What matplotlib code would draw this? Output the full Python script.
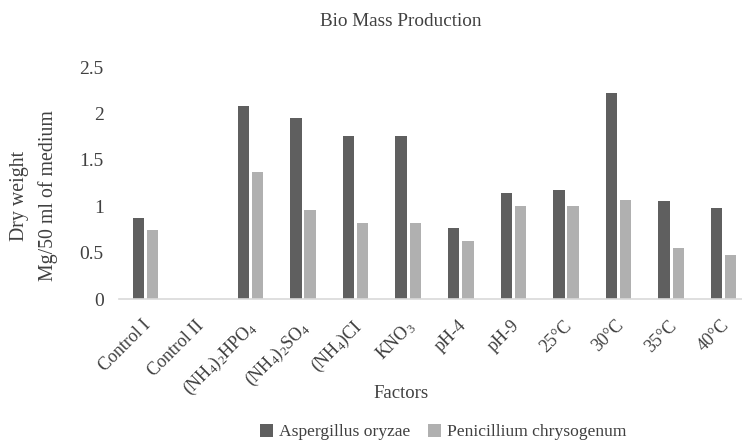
import matplotlib
matplotlib.use("Agg")
import matplotlib.pyplot as plt
import matplotlib.transforms as mtransforms
import numpy as np

categories = ["Control I", "Control II", r"(NH$_4$)$_2$HPO$_4$", r"(NH$_4$)$_2$SO$_4$",
              r"(NH$_4$)CI", r"KNO$_3$", "pH-4", "pH-9", "25°C", "30°C", "35°C", "40°C"]
aspergillus = [0.87, 0, 2.08, 1.95, 1.76, 1.76, 0.77, 1.14, 1.17, 2.22, 1.06, 0.98]
penicillium = [0.74, 0, 1.37, 0.96, 0.82, 0.82, 0.62, 1.00, 1.00, 1.07, 0.55, 0.47]
series_names = ["Aspergillus oryzae", "Penicillium chrysogenum"]
yticks = [0, 0.5, 1, 1.5, 2, 2.5]
ytick_labels = ["0", "0.5", "1", "1.5", "2", "2.5"]

plt.rcParams['font.family'] = ['Liberation Serif', 'DejaVu Serif']
plt.rcParams['mathtext.fontset'] = 'custom'
plt.rcParams['mathtext.rm'] = 'Liberation Serif'
plt.rcParams['mathtext.it'] = 'Liberation Serif'

txt = '#404040'
dark = '#5f5f5f'
light = '#b0b0b0'

fig = plt.figure(figsize=(7.42, 4.43), dpi=100)
ax = fig.add_axes([119/742, (443-299)/443, 631/742, 232/443])

x = np.arange(len(categories))
w = 0.215
ax.bar(x - 0.135, aspergillus, w, color=dark, label=series_names[0])
ax.bar(x + 0.135, penicillium, w, color=light, label=series_names[1])

ax.set_xlim(-0.5, len(categories) - 0.5)
ax.set_ylim(0, 2.5)
ax.set_yticks(yticks)
ax.set_yticklabels(ytick_labels, fontsize=14, color=txt)
ax.set_xticks(x)
ax.set_xticklabels(categories, rotation=45, ha='right', rotation_mode='anchor',
                   fontsize=13, color=txt)
ax.tick_params(axis='y', length=0, pad=11)
ax.tick_params(axis='x', length=0, pad=13)
offset = mtransforms.ScaledTranslation(-3/100, 0, fig.dpi_scale_trans)
for lab in ax.get_xticklabels():
    lab.set_transform(lab.get_transform() + offset)
for s in ['top', 'right', 'left']:
    ax.spines[s].set_visible(False)
ax.spines['bottom'].set_color('#d9d9d9')
ax.spines['bottom'].set_linewidth(1.2)

fig.text(401/742, 1 - 21/443, "Bio Mass Production", ha='center', va='center',
         fontsize=13.8, color=txt)
fig.text(401/742, 1 - 394/443, "Factors", ha='center', va='center',
         fontsize=13.5, color=txt)
fig.text(20/742, 1 - 196/443, "Dry weight", rotation=90, ha='center', va='center',
         fontsize=14.3, color=txt)
fig.text(48/742, 1 - 196/443, "Mg/50 ml of medium", rotation=90, ha='center', va='center',
         fontsize=14.3, color=txt)

leg = fig.legend(loc='center', bbox_to_anchor=(443/742, 1 - 432/443), ncol=2,
                 frameon=False, fontsize=12.6, handlelength=0.75, handleheight=0.75,
                 handletextpad=0.35, columnspacing=1.0)
for t in leg.get_texts():
    t.set_color(txt)

fig.savefig("out.png", dpi=100)
